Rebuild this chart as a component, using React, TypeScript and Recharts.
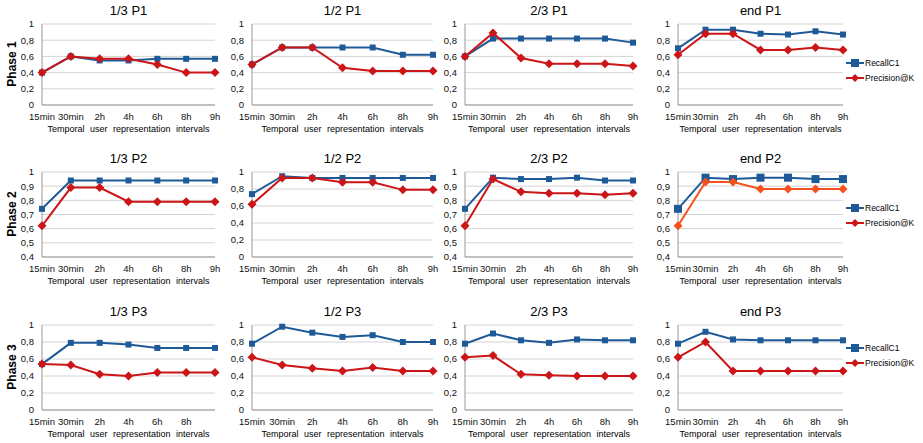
import React from "react";
import { LineChart, Line, XAxis, YAxis, CartesianGrid } from "recharts";

const intervals = ["15min", "30min", "2h", "4h", "6h", "8h", "9h"];
const titles = ["1/3", "1/2", "2/3", "end"];
const phases = ["Phase 1", "Phase 2", "Phase 3"];

// recall per phase, per fraction (1/3, 1/2, 2/3, end)
const recallP1 = [
  [0.4, 0.6, 0.55, 0.55, 0.57, 0.57, 0.57],
  [0.5, 0.71, 0.71, 0.71, 0.71, 0.62, 0.62],
  [0.6, 0.82, 0.82, 0.82, 0.82, 0.82, 0.77],
  [0.7, 0.93, 0.93, 0.88, 0.87, 0.91, 0.87],
];
const precisionP1 = [
  [0.4, 0.6, 0.57, 0.57, 0.5, 0.4, 0.4],
  [0.5, 0.71, 0.71, 0.46, 0.42, 0.42, 0.42],
  [0.6, 0.89, 0.58, 0.51, 0.51, 0.51, 0.48],
  [0.62, 0.88, 0.88, 0.68, 0.68, 0.71, 0.68],
];
const recallP2 = [
  [0.74, 0.94, 0.94, 0.94, 0.94, 0.94, 0.94],
  [0.74, 0.95, 0.93, 0.93, 0.93, 0.93, 0.93],
  [0.74, 0.96, 0.95, 0.95, 0.96, 0.94, 0.94],
  [0.74, 0.96, 0.95, 0.96, 0.96, 0.95, 0.95],
];
const precisionP2 = [
  [0.62, 0.89, 0.89, 0.79, 0.79, 0.79, 0.79],
  [0.62, 0.93, 0.93, 0.88, 0.88, 0.79, 0.79],
  [0.62, 0.95, 0.86, 0.85, 0.85, 0.84, 0.85],
  [0.62, 0.93, 0.93, 0.88, 0.88, 0.88, 0.88],
];
const recallP3 = [
  [0.54, 0.79, 0.79, 0.77, 0.73, 0.73, 0.73],
  [0.78, 0.98, 0.91, 0.86, 0.88, 0.8, 0.8],
  [0.78, 0.9, 0.82, 0.79, 0.83, 0.82, 0.82],
  [0.78, 0.92, 0.83, 0.82, 0.82, 0.82, 0.82],
];
const precisionP3 = [
  [0.54, 0.53, 0.42, 0.4, 0.44, 0.44, 0.44],
  [0.62, 0.53, 0.49, 0.46, 0.5, 0.46, 0.46],
  [0.62, 0.64, 0.42, 0.41, 0.4, 0.4, 0.4],
  [0.62, 0.8, 0.46, 0.46, 0.46, 0.46, 0.46],
];

const recall = [recallP1, recallP2, recallP3];
const precision = [precisionP1, precisionP2, precisionP3];

const ticksFull = [0, 0.2, 0.4, 0.6, 0.8, 1];
const ticksHigh = [0.4, 0.5, 0.6, 0.7, 0.8, 0.9, 1];

const BLUE = "#1f5a98";
const RED = "#cc1517";
const FONT = "'Liberation Sans', Arial, sans-serif";

const colX = [[42, 215], [252, 433], [465, 633], [678, 843]];
const rowY = [[24, 105], [172, 257], [325, 410]];

const Square = (size: number) => (p: any) =>
  p.cx == null ? null : <rect key={p.index} x={p.cx - size / 2} y={p.cy - size / 2} width={size} height={size} fill={BLUE} />;
const Diamond = (color: string) => (p: any) =>
  p.cx == null ? null : (
    <polygon key={p.index} points={`${p.cx},${p.cy - 4.5} ${p.cx + 4.5},${p.cy} ${p.cx},${p.cy + 4.5} ${p.cx - 4.5},${p.cy}`} fill={color} />
  );

function Panel({ r, c }: { r: number; c: number }) {
  const [x0, x1] = colX[c];
  const [y0, y1] = rowY[r];
  const high = r === 1 && c !== 1;
  const ticks = high ? ticksHigh : ticksFull;
  const yW = 26;
  const data = intervals.map((name, i) => ({
    name: r === 2 && c === 0 && i === 6 ? " " : name,
    recall: recall[r][c][i],
    precision: precision[r][c][i],
  }));
  const precColor = r === 1 && c === 3 ? "#f4511e" : RED;
  const big = r === 1 && c === 3;
  return (
    <>
      <div style={{ position: "absolute", left: x0, width: x1 - x0, top: y0 - 21, textAlign: "center", fontSize: 13, fontFamily: FONT }}>
        {titles[c]} P{r + 1}
      </div>
      <div style={{ position: "absolute", left: x0 - 20, width: x1 - x0 + 40, top: y1 + 19, textAlign: "center", fontSize: 9, fontFamily: FONT, wordSpacing: 3 }}>
        Temporal user representation intervals
      </div>
      <div style={{ position: "absolute", left: x0 - yW, top: y0 - 5 }}>
        <LineChart width={x1 - x0 + yW + 14} height={y1 - y0 + 5 + 18} data={data} margin={{ top: 5, right: 14, left: 0, bottom: 0 }}>
          <CartesianGrid vertical={false} stroke="#d4d4d4" />
          <XAxis dataKey="name" interval={0} tickLine={false} stroke="#999" height={18}
            tick={{ fontSize: 9.5, fill: "#111", fontFamily: FONT }} tickMargin={2} />
          <YAxis domain={[ticks[0], 1]} ticks={ticks} interval={0} width={yW} tickLine={false} stroke="#999"
            tickFormatter={(v: number) => String(Math.round(v * 10) / 10).replace(".", ",")}
            tick={{ fontSize: 9.5, fill: "#111", fontFamily: FONT }} />
          <Line dataKey="recall" stroke={BLUE} strokeWidth={2} dot={Square(big ? 8 : 6)} isAnimationActive={false} />
          <Line dataKey="precision" stroke={precColor} strokeWidth={2} dot={Diamond(precColor)} isAnimationActive={false} />
        </LineChart>
      </div>
    </>
  );
}

function Legend({ top, precColor }: { top: number; precColor: string }) {
  const row = (color: string, shape: React.ReactNode, label: string) => (
    <div style={{ display: "flex", alignItems: "center", height: 15 }}>
      <svg width={18} height={10}>
        <line x1={0} x2={18} y1={5} y2={5} stroke={color} strokeWidth={2} />
        {shape}
      </svg>
      <span style={{ fontSize: 8.5, fontFamily: FONT, marginLeft: 1 }}>{label}</span>
    </div>
  );
  return (
    <div style={{ position: "absolute", left: 846, top }}>
      {row(BLUE, <rect x={5} y={1} width={8} height={8} fill={BLUE} />, "RecallC1")}
      {row(precColor, <polygon points="9,1 13,5 9,9 5,5" fill={precColor} />, "Precision@K")}
    </div>
  );
}

export default function App() {
  return (
    <div style={{ position: "fixed", left: 0, top: 0, width: 923, height: 443, background: "#fff", overflow: "hidden" }}>
      {phases.map((p, r) => (
        <div key={p} style={{ position: "absolute", left: 2, top: (rowY[r][0] + rowY[r][1]) / 2 - 8, width: 20, height: 16 }}>
          <div style={{ transform: "rotate(-90deg)", transformOrigin: "center", whiteSpace: "nowrap", fontWeight: "bold", fontSize: 12, fontFamily: FONT, position: "absolute", left: -18, top: 0, width: 56, textAlign: "center" }}>
            {p}
          </div>
        </div>
      ))}
      {[0, 1, 2].map((r) => [0, 1, 2, 3].map((c) => <Panel key={`${r}-${c}`} r={r} c={c} />))}
      <Legend top={55} precColor={RED} />
      <Legend top={200} precColor={RED} />
      <Legend top={340} precColor={RED} />
    </div>
  );
}
